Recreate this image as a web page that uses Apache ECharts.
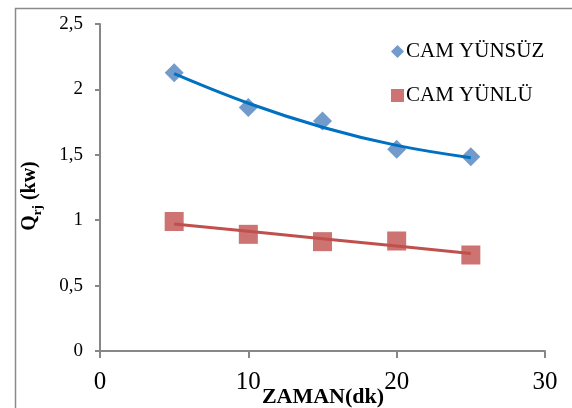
<!DOCTYPE html>
<html><head><meta charset="utf-8">
<script src="https://cdn.jsdelivr.net/npm/echarts@6/dist/echarts.min.js"></script>
<style>html,body{margin:0;padding:0;background:#fff}#c{width:572px;height:408px}</style>
</head><body><div id="c"></div>
<script>
var xValues = [5, 10, 15, 20, 25];
var camYunsuz = [2.128, 1.862, 1.758, 1.542, 1.485];
var camYunlu = [0.99, 0.892, 0.836, 0.841, 0.734];
var trendYunsuz = [2.12, 1.894, 1.711, 1.572, 1.478];
var trendYunlu = [0.971, 0.915, 0.859, 0.802, 0.746];
var seriesNames = ['CAM YÜNSÜZ', 'CAM YÜNLÜ'];
var xTicks = [0, 10, 20, 30];
var yTicks = [0, 0.5, 1, 1.5, 2, 2.5];

function pairs(xs, ys){ return xs.map(function(x,i){ return [x, ys[i]]; }); }
var serif = '"Liberation Serif","DejaVu Serif",serif';
var axisColor = '#878787';

var chart = echarts.init(document.getElementById('c'));
chart.setOption({
  animation: false,
  backgroundColor: '#fff',
  grid: {left: 100, right: 27, top: 24, bottom: 57, containLabel: false},
  xAxis: {
    type: 'value', min: 0, max: 30, interval: 10,
    axisLine: {show: true, lineStyle: {color: axisColor, width: 2}},
    axisTick: {show: true, length: 7, lineStyle: {color: axisColor, width: 2}},
    splitLine: {show: false},
    axisLabel: {fontFamily: serif, fontSize: 25, color: '#000', margin: 19,
      formatter: function(v){ return xTicks.indexOf(v) >= 0 ? String(v) : ''; }}
  },
  yAxis: {
    type: 'value', min: 0, max: 2.5, interval: 0.5,
    axisLine: {show: true, lineStyle: {color: axisColor, width: 2}},
    axisTick: {show: true, length: 5, lineStyle: {color: axisColor, width: 2}},
    splitLine: {show: false},
    axisLabel: {fontFamily: serif, fontSize: 19, color: '#000', margin: 17,
      formatter: function(v){ return yTicks.indexOf(v) >= 0 ? String(v).replace('.', ',') : ''; }}
  },
  legend: {
    orient: 'vertical', left: 386, top: 36,
    itemWidth: 13, itemHeight: 13, itemGap: 23,
    textStyle: {fontFamily: serif, fontSize: 21, color: '#000', lineHeight: 21, padding: [0,0,0,-3]},
    data: [
      {name: seriesNames[0], icon: 'diamond', itemStyle: {color: '#4F81BD'}},
      {name: seriesNames[1], icon: 'rect', itemStyle: {color: '#C0504D'}}
    ]
  },
  graphic: [
    {type: 'rect', left: 13, top: 6, z: 100, silent: true,
     shape: {width: 620, height: 460}, style: {fill: 'none', stroke: '#8a8a8a', lineWidth: 1.5}},
    {type: 'text', x: 30, y: 196, rotation: Math.PI/2, z: 100,
     style: {text: '{b|Q}{s|rj}{b| (kw)}', align: 'center', verticalAlign: 'middle',
       rich: {
         b: {fontFamily: serif, fontWeight: 'bold', fontSize: 20, fill: '#000', verticalAlign: 'bottom'},
         s: {fontFamily: serif, fontWeight: 'bold', fontSize: 13, fill: '#000', verticalAlign: 'bottom', padding: [0,0,-4,0]}
       }}},
    {type: 'text', x: 323, y: 397, z: 100,
     style: {text: 'ZAMAN(dk)', align: 'center', verticalAlign: 'middle',
       fontFamily: serif, fontWeight: 'bold', fontSize: 22, fill: '#000'}}
  ],
  series: [
    {name: seriesNames[0], type: 'scatter', symbol: 'diamond', symbolSize: 19,
     itemStyle: {color: '#4F81BD'}, data: pairs(xValues, camYunsuz), z: 2},
    {name: seriesNames[1], type: 'scatter', symbol: 'rect', symbolSize: 19,
     itemStyle: {color: '#C0504D'}, data: pairs(xValues, camYunlu), z: 2},
    {name: 'trend1', type: 'line', smooth: 0.4, showSymbol: false, symbol: 'none',
     lineStyle: {color: '#0070C0', width: 3}, data: pairs(xValues, trendYunsuz), z: 3, silent: true},
    {name: 'trend2', type: 'line', smooth: false, showSymbol: false, symbol: 'none',
     lineStyle: {color: '#C0504D', width: 3}, data: pairs(xValues, trendYunlu), z: 3, silent: true}
  ]
});
</script></body></html>
